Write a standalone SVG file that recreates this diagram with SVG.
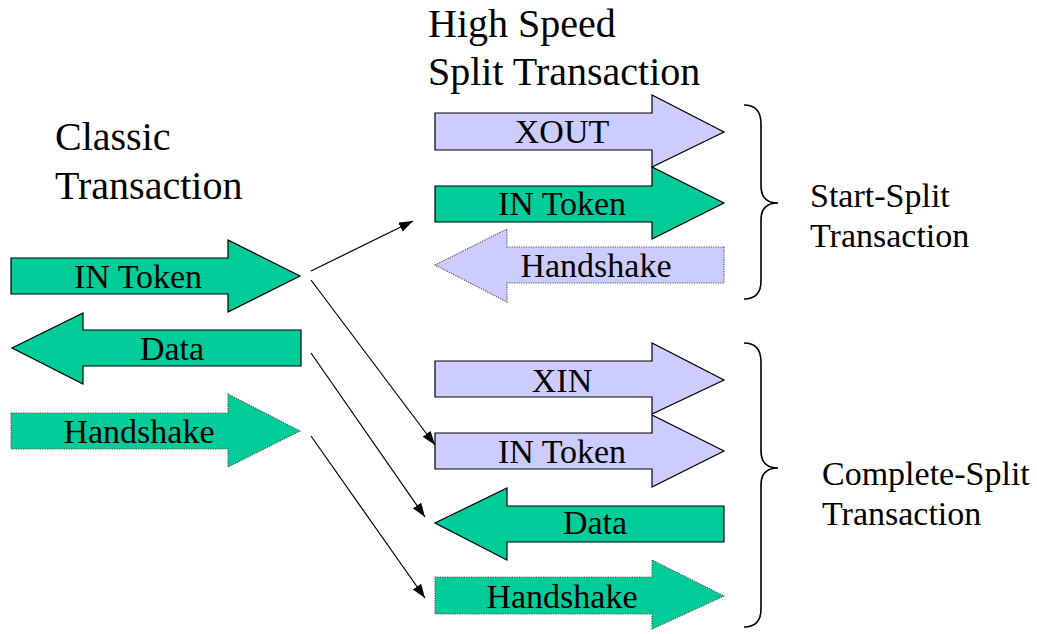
<svg xmlns="http://www.w3.org/2000/svg" width="1037" height="634" viewBox="0 0 1037 634">
  <style>
    text { font-family: 'Times New Roman', Times, 'Liberation Serif', Tinos, 'Nimbus Roman', 'Nimbus Roman No9 L', 'Noto Serif', 'DejaVu Serif', FreeSerif, serif; fill: #000; }
    .title { font-size: 40px; }
    .note { font-size: 34px; }
    .lbl { font-size: 34px; text-anchor: middle; }
    .green { fill: #00CC99; stroke: #000; stroke-width: 1.2; }
    .lav { fill: #CCCCFF; stroke: #000; stroke-width: 1.2; }
    .dotted { stroke: #555; stroke-width: 1.2; stroke-dasharray: 1.2 1.2; }
    .brace { fill: none; stroke: #000; stroke-width: 1.6; }
    .conn { stroke: #000; stroke-width: 1.2; fill: none; marker-end: url(#head); }
  </style>
  <defs>
    <marker id="head" markerUnits="userSpaceOnUse" markerWidth="16" markerHeight="12" refX="14" refY="5" orient="auto">
      <path d="M0,0 L14,5 L0,10 Z" fill="#000"/>
    </marker>
  </defs>
  <rect width="1037" height="634" fill="#fff"/>

  <!-- headings -->
  <g id="classic-title">
    <text class="title" x="55" y="150">Classic</text>
    <text class="title" x="55" y="199">Transaction</text>
  </g>
  <g id="hs-title">
    <text class="title" x="428" y="37">High Speed</text>
    <text class="title" x="428" y="85">Split Transaction</text>
  </g>

  <!-- classic transaction -->
  <g id="c-in-token">
    <polygon class="green" points="11,258 228,258 228,240 300,276 228,312 228,294 11,294"/>
    <text class="lbl" x="138" y="288">IN Token</text>
  </g>
  <g id="c-data">
    <polygon class="green" points="301,330 83,330 83,313 12,348 83,384 83,366 301,366"/>
    <text class="lbl" x="172" y="360">Data</text>
  </g>
  <g id="c-handshake">
    <polygon class="green dotted" points="11,413 228,413 228,394 300,431 228,467 228,449 11,449"/>
    <text class="lbl" x="139" y="443">Handshake</text>
  </g>

  <!-- start-split -->
  <g id="ss-xout">
    <polygon class="lav" points="435,113 652,113 652,95 724,132 652,167 652,150 435,150"/>
    <text class="lbl" x="562" y="143">XOUT</text>
  </g>
  <g id="ss-in-token">
    <polygon class="green" points="435,186 652,186 652,167 724,203 652,239 652,222 435,222"/>
    <text class="lbl" x="562" y="215">IN Token</text>
  </g>
  <g id="ss-handshake">
    <polygon class="lav dotted" points="724,247 507,247 507,229 435,265 507,302 507,283 724,283"/>
    <text class="lbl" x="596" y="277">Handshake</text>
  </g>

  <!-- complete-split -->
  <g id="cs-xin">
    <polygon class="lav" points="435,361 652,361 652,343 724,380 652,414 652,397 435,397"/>
    <text class="lbl" x="562" y="392">XIN</text>
  </g>
  <g id="cs-in-token">
    <polygon class="lav" points="435,433 652,433 652,415 724,451 652,487 652,469 435,469"/>
    <text class="lbl" x="562" y="463">IN Token</text>
  </g>
  <g id="cs-data">
    <polygon class="green" points="724,506 507,506 507,488 435,523 507,560 507,542 724,542"/>
    <text class="lbl" x="595" y="534">Data</text>
  </g>
  <g id="cs-handshake">
    <polygon class="green dotted" points="435,577 652,577 652,560 724,596 652,629 652,614 435,614"/>
    <text class="lbl" x="562" y="608">Handshake</text>
  </g>

  <!-- grouping braces -->
  <g id="start-split-brace">
    <path class="brace" d="M744,105 Q761,105 761,124 L761,186 Q761,203 778,203 Q761,203 761,220 L761,281 Q761,299 744,299"/>
    <text class="note" x="810" y="207">Start-Split</text>
    <text class="note" x="810" y="247">Transaction</text>
  </g>
  <g id="complete-split-brace">
    <path class="brace" d="M744,343 Q761,343 761,362 L761,451 Q761,468 778,468 Q761,468 761,485 L761,609 Q761,627 744,627"/>
    <text class="note" x="822" y="485">Complete-Split</text>
    <text class="note" x="822" y="525">Transaction</text>
  </g>

  <!-- connectors -->
  <g id="connectors">
    <line class="conn" x1="311" y1="271" x2="413" y2="221"/>
    <line class="conn" x1="311" y1="280" x2="435" y2="445"/>
    <line class="conn" x1="311" y1="353" x2="425" y2="517"/>
    <line class="conn" x1="311" y1="436" x2="425" y2="598"/>
  </g>
</svg>
